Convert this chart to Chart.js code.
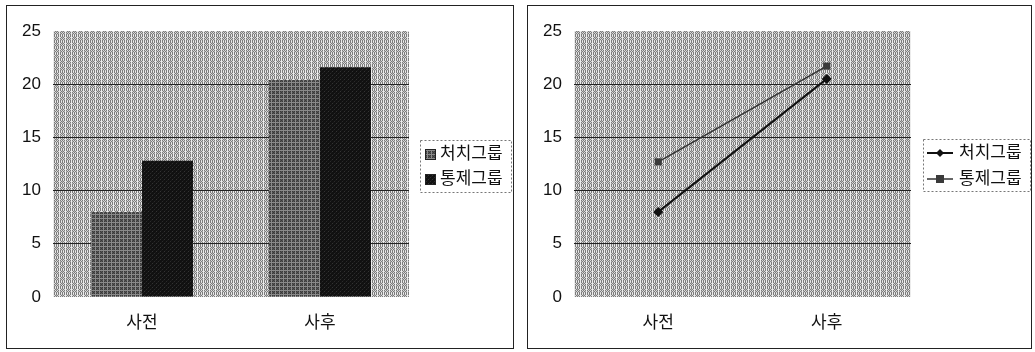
<!DOCTYPE html>
<html>
<head>
<meta charset="utf-8">
<script src="https://cdn.jsdelivr.net/npm/chart.js"></script>
<style>
  body { margin: 0; background: #fff; }
  .panel { position: absolute; top: 5px; height: 342px; border: 1px solid #222; background: #fff; }
  #p1 { left: 6px; width: 506px; }
  #p2 { left: 527px; width: 503px; }
  canvas { display: block; }
</style>
</head>
<body>
<div class="panel" id="p1"><canvas id="barChart" width="506" height="342"></canvas></div>
<div class="panel" id="p2"><canvas id="lineChart" width="503" height="342"></canvas></div>
<script>
// data
const categories = ['사전', '사후'];
const seriesNames = ['처치그룹', '통제그룹'];
const treatValues = [8.0, 20.4];
const controlValues = [12.8, 21.6];
const treatLineValues = [8.0, 20.5];
const controlLineValues = [12.7, 21.7];
const yTicks = [0, 5, 10, 15, 20, 25];

const FONT = '"Liberation Sans", "Noto Sans CJK KR", sans-serif';

// small dither patterns to imitate the printed texture
const makePattern = (rows) => {
  const c = document.createElement('canvas');
  c.width = rows[0].length; c.height = rows.length;
  const g = c.getContext('2d');
  rows.forEach((row, y) => row.forEach((col, x) => { g.fillStyle = col; g.fillRect(x, y, 1, 1); }));
  return g.createPattern(c, 'repeat');
};
const L = '#dadada', D = '#7c7c7c', M = '#b0b0b0', W = '#ececec';
const bgPattern = makePattern([
  [L, D, L, D, W, D],
  [D, M, D, L, W, L],
  [L, D, L, D, W, D],
  [D, L, D, M, W, M],
  [L, D, L, D, W, D],
  [W, W, W, W, W, W].map((c, i) => i % 2 ? D : c)
]);
const hatchPattern = makePattern([
  ['#8a8a8a', '#8a8a8a', '#8a8a8a', '#8a8a8a'],
  ['#8a8a8a', '#3a3a3a', '#555', '#3a3a3a'],
  ['#8a8a8a', '#555', '#3a3a3a', '#555'],
  ['#8a8a8a', '#3a3a3a', '#555', '#3a3a3a']
]);
const blackPattern = makePattern([
  ['#111', '#111', '#1a1a1a', '#111'],
  ['#111', '#333', '#111', '#111'],
  ['#1a1a1a', '#111', '#111', '#111'],
  ['#111', '#111', '#111', '#2a2a2a']
]);

// plot background + framed legend
const plotBg = {
  id: 'plotBg',
  beforeDraw(chart) {
    const a = chart.chartArea, ctx = chart.ctx;
    ctx.save();
    ctx.fillStyle = bgPattern;
    ctx.fillRect(a.left, a.top, a.right - a.left, a.bottom - a.top);
    ctx.restore();
  }
};
const boxLegend = {
  id: 'boxLegend',
  afterDraw(chart, args, opts) {
    const ctx = chart.ctx;
    ctx.save();
    ctx.setLineDash([2, 2]);
    ctx.strokeStyle = '#777';
    ctx.lineWidth = 1;
    ctx.strokeRect(opts.x + 0.5, opts.y + 0.5, opts.w, opts.h);
    ctx.setLineDash([]);
    ctx.font = '17px ' + FONT;
    ctx.textBaseline = 'middle';
    chart.data.datasets.forEach((ds, i) => {
      const cy = opts.y + opts.first + i * opts.gap;
      if (opts.kind === 'bar') {
        ctx.fillStyle = ds.backgroundColor;
        ctx.fillRect(opts.x + 5, cy - 5, 11, 11);
        ctx.strokeStyle = '#222';
        ctx.strokeRect(opts.x + 5.5, cy - 4.5, 10, 10);
      } else {
        ctx.strokeStyle = ds.borderColor;
        ctx.lineWidth = ds.borderWidth;
        ctx.beginPath();
        ctx.moveTo(opts.x + 4, cy); ctx.lineTo(opts.x + 30, cy);
        ctx.stroke();
        ctx.fillStyle = ds.pointBackgroundColor;
        ctx.beginPath();
        if (ds.pointStyle === 'rectRot') {
          ctx.moveTo(opts.x + 17, cy - 4); ctx.lineTo(opts.x + 21, cy);
          ctx.lineTo(opts.x + 17, cy + 4); ctx.lineTo(opts.x + 13, cy);
        } else {
          ctx.rect(opts.x + 13, cy - 4, 8, 8);
        }
        ctx.fill();
      }
      ctx.fillStyle = '#111';
      ctx.fillText(ds.label, opts.x + opts.textX, cy);
    });
    ctx.restore();
  }
};

const scalesFor = (xOffset) => ({
  x: {
    offset: xOffset,
    grid: { display: false, drawTicks: false },
    border: { display: false },
    ticks: { color: '#111', font: { family: FONT, size: 17 }, padding: 16 },
    afterFit: (axis) => { axis.height = 51; }
  },
  y: {
    min: 0, max: 25,
    afterBuildTicks: (axis) => { axis.ticks = yTicks.map(v => ({ value: v })); },
    grid: { color: (c) => (c.tick.value === 0 || c.tick.value === 25) ? 'rgba(0,0,0,0)' : '#222', lineWidth: 1, drawTicks: false },
    border: { display: false },
    ticks: { color: '#111', font: { family: FONT, size: 17 }, padding: 12 },
    afterFit: (axis) => { axis.width = 46; }
  }
});

new Chart(document.getElementById('barChart'), {
  type: 'bar',
  data: {
    labels: categories,
    datasets: [
      { label: seriesNames[0], data: treatValues, backgroundColor: hatchPattern, borderWidth: 0 },
      { label: seriesNames[1], data: controlValues, backgroundColor: blackPattern, borderWidth: 0 }
    ]
  },
  options: {
    responsive: false,
    animation: false,
    categoryPercentage: 0.573,
    barPercentage: 1.0,
    layout: { padding: { top: 25, right: 104, bottom: 0, left: 0 } },
    plugins: {
      legend: { display: false },
      tooltip: { enabled: false },
      boxLegend: { kind: 'bar', x: 413, y: 134, w: 91, h: 52, first: 14, gap: 25, textX: 20 }
    },
    scales: scalesFor(true)
  },
  plugins: [plotBg, boxLegend]
});

new Chart(document.getElementById('lineChart'), {
  type: 'line',
  data: {
    labels: categories,
    datasets: [
      { label: seriesNames[0], data: treatLineValues, borderColor: '#111', borderWidth: 2,
        pointStyle: 'rectRot', pointRadius: 5, pointBackgroundColor: '#111', pointBorderWidth: 0 },
      { label: seriesNames[1], data: controlLineValues, borderColor: '#333', borderWidth: 1.5,
        pointStyle: 'rect', pointRadius: 5, pointBackgroundColor: '#3a3a3a', pointBorderWidth: 0 }
    ]
  },
  options: {
    responsive: false,
    animation: false,
    layout: { padding: { top: 25, right: 120, bottom: 0, left: 0 } },
    plugins: {
      legend: { display: false },
      tooltip: { enabled: false },
      boxLegend: { kind: 'line', x: 395, y: 133, w: 107, h: 52, first: 14, gap: 26, textX: 36 }
    },
    scales: scalesFor(true)
  },
  plugins: [plotBg, boxLegend]
});
</script>
</body>
</html>
